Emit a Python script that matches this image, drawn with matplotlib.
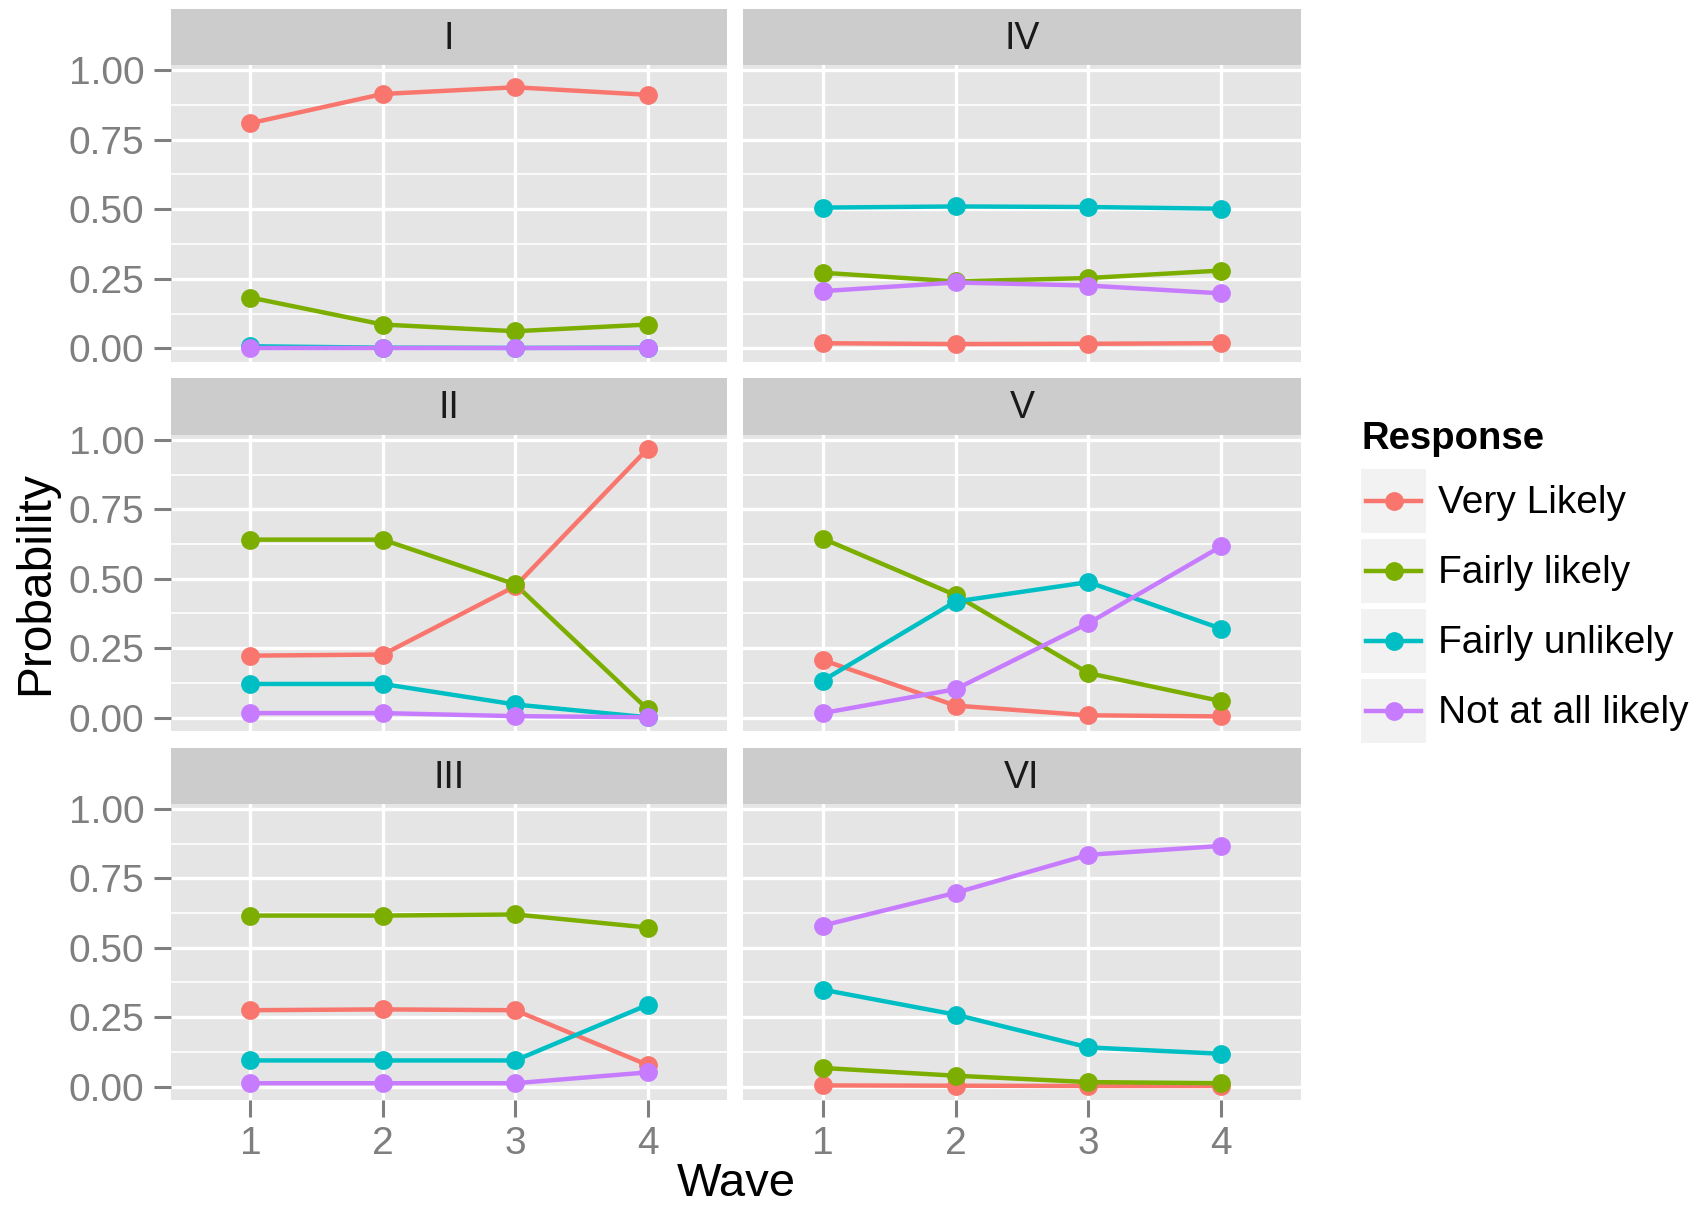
import matplotlib
matplotlib.use("Agg")
import matplotlib.pyplot as plt
from matplotlib.patches import Rectangle
from matplotlib.lines import Line2D

plt.rcParams['font.family'] = ['Liberation Sans', 'DejaVu Sans']

waves = [1, 2, 3, 4]
responses = ["Very Likely", "Fairly likely", "Fairly unlikely", "Not at all likely"]
colors = ["#F8766D", "#7CAE00", "#00BFC4", "#C77CFF"]
panels = ["I", "II", "III", "IV", "V", "VI"]

# probabilities by wave, one list per response (same order as `responses`)
prob_I = [[0.809, 0.914, 0.938, 0.911],
          [0.183, 0.086, 0.062, 0.086],
          [0.008, 0.003, 0.002, 0.003],
          [0.001, 0.001, 0.001, 0.001]]
prob_II = [[0.223, 0.227, 0.473, 0.968],
           [0.641, 0.641, 0.480, 0.030],
           [0.121, 0.121, 0.047, 0.001],
           [0.016, 0.016, 0.005, 0.001]]
prob_III = [[0.275, 0.278, 0.275, 0.078],
            [0.616, 0.616, 0.620, 0.573],
            [0.094, 0.094, 0.094, 0.294],
            [0.012, 0.012, 0.012, 0.051]]
prob_IV = [[0.019, 0.016, 0.017, 0.019],
           [0.272, 0.241, 0.253, 0.280],
           [0.506, 0.510, 0.508, 0.502],
           [0.206, 0.237, 0.226, 0.198]]
prob_V = [[0.207, 0.043, 0.008, 0.004],
          [0.645, 0.441, 0.160, 0.059],
          [0.133, 0.418, 0.488, 0.320],
          [0.016, 0.102, 0.340, 0.617]]
prob_VI = [[0.004, 0.003, 0.002, 0.002],
           [0.067, 0.039, 0.016, 0.012],
           [0.349, 0.259, 0.141, 0.118],
           [0.580, 0.698, 0.835, 0.867]]
probs = [prob_I, prob_II, prob_III, prob_IV, prob_V, prob_VI]

W, H = 1704, 1210
fig = plt.figure(figsize=(W / 100, H / 100), dpi=100)

# panel geometry in pixels (left, right) and (strip top, panel top, panel bottom)
cols = [(171, 727), (743, 1301)]
rows = [(9, 65, 362), (378, 435, 731), (748, 804, 1100)]

grey50 = "#7F7F7F"
for i, name in enumerate(panels):
    c, r = i // 3, i % 3
    x0, x1 = cols[c]
    st, pt, pb = rows[r]
    ax = fig.add_axes([x0 / W, 1 - pb / H, (x1 - x0) / W, (pb - pt) / H])
    sx = fig.add_axes([x0 / W, 1 - pt / H, (x1 - x0) / W, (pt - st) / H])
    sx.set_facecolor("#CCCCCC")
    sx.set_xticks([]); sx.set_yticks([])
    for s in sx.spines.values():
        s.set_visible(False)
    sx.text(0.5, 0.47, name, ha="center", va="center", fontsize=27,
            color="#1A1A1A", transform=sx.transAxes)

    ax.set_facecolor("#E5E5E5")
    for s in ax.spines.values():
        s.set_visible(False)
    ax.set_xlim(0.4, 4.6)
    ax.set_ylim(-0.0485, 1.018)
    ax.set_xticks(waves)
    ax.set_yticks([0, 0.25, 0.5, 0.75, 1.0])
    ax.set_yticks([0.125, 0.375, 0.625, 0.875], minor=True)
    ax.grid(which="major", color="white", linewidth=2.4)
    ax.grid(which="minor", axis="y", color="white", linewidth=1.2)
    ax.set_axisbelow(True)
    ax.tick_params(which="minor", length=0)
    ax.tick_params(which="major", length=12, width=2.2, color=grey50,
                   labelcolor=grey50, labelsize=28, pad=7)
    if c == 0:
        ax.set_yticklabels(["0.00", "0.25", "0.50", "0.75", "1.00"])
    else:
        ax.tick_params(axis="y", length=0, labelleft=False)
    if r != 2:
        ax.tick_params(axis="x", length=0, labelbottom=False)

    for vals, col in zip(probs[i], colors):
        ax.plot(waves, vals, color=col, linewidth=3.2, solid_capstyle="butt", zorder=2)
    for vals, col in zip(probs[i], colors):
        ax.plot(waves, vals, linestyle="none", marker="o", markersize=12.5,
                color=col, zorder=3)

fig.text(736 / W, 1 - 1196 / H, "Wave", ha="center", va="baseline", fontsize=34)
fig.text(36 / W, 1 - 583 / H, "Probability", ha="center", va="center",
         rotation=90, fontsize=34.5)

# legend
lg = fig.add_axes([0, 0, 1, 1], facecolor="none")
lg.set_xlim(0, W)
lg.set_ylim(H, 0)
lg.axis("off")
lg.text(1361, 439, "Response", fontsize=27.5, fontweight="bold", va="center", ha="left")
centers = [501, 571, 641, 711]
for lab, col, yc in zip(responses, colors, centers):
    lg.add_patch(Rectangle((1361, yc - 32), 65, 64, facecolor="#F2F2F2", edgecolor="none"))
    lg.add_line(Line2D([1366, 1421], [yc, yc], color=col, linewidth=3.2))
    lg.plot([1393.5], [yc], marker="o", markersize=12.5, color=col)
    lg.text(1438, yc + 2, lab, fontsize=28, va="center", ha="left")

fig.savefig("out.png", dpi=100)
